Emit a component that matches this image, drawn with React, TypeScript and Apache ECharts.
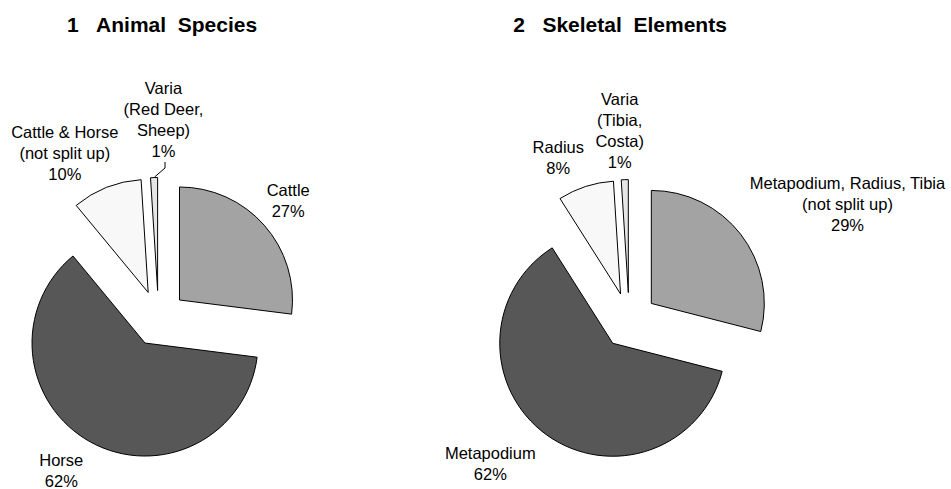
import React, { useEffect, useRef } from "react";
import * as echarts from "echarts";

// ---- data ----
const chartTitles = ["1\u00A0\u00A0\u00A0Animal\u00A0\u00A0Species", "2\u00A0\u00A0\u00A0Skeletal\u00A0\u00A0Elements"];

const speciesNames = ["Cattle", "Horse", "Cattle & Horse\n(not split up)", "Varia\n(Red Deer,\nSheep)"];
const speciesValues = [27, 62, 10, 1];

const elementNames = ["Metapodium, Radius, Tibia\n(not split up)", "Metapodium", "Radius", "Varia\n(Tibia,\nCosta)"];
const elementValues = [29, 62, 8, 1];

// ---- styling / layout ----
const sliceColors = ["#a3a3a3", "#575757", "#f8f8f8", "#e6e6e6"];
const FONT = "'Liberation Sans', Arial, sans-serif";
const pieCenters: [number, number][] = [
  [158.5, 318.5],
  [629.2, 320.6],
];
const pieRadius = 113;
const explode = 28;
const titleX = [162, 620];
// label block centres (per pie, per slice)
const labelCenters: [number, number][][] = [
  [
    [288.2, 200],
    [61.3, 470.7],
    [64.8, 153.2],
    [163.5, 119.3],
  ],
  [
    [847.5, 204],
    [490.3, 463],
    [558.3, 157],
    [619.7, 130.5],
  ],
];
const leaderLines: number[][][] = [
  [[154.6, 177], [165, 168], [165, 162]],
];

function buildSeries(idx: number, names: string[], values: number[]) {
  return {
    type: "pie",
    center: pieCenters[idx],
    radius: pieRadius,
    startAngle: 90,
    clockwise: true,
    selectedMode: "multiple",
    selectedOffset: explode,
    avoidLabelOverlap: false,
    silent: true,
    itemStyle: { borderColor: "#000", borderWidth: 1 },
    select: { itemStyle: { borderColor: "#000", borderWidth: 1 } },
    label: { show: false },
    labelLine: { show: false },
    data: values.map((v, i) => ({
      name: names[i],
      value: v,
      selected: true,
      itemStyle: { color: sliceColors[i] },
      select: { itemStyle: { color: sliceColors[i] } },
    })),
  };
}

function buildLabels(idx: number, names: string[], values: number[]) {
  return names.map((n, i) => ({
    type: "text",
    silent: true,
    style: {
      text: `${n}\n${values[i]}%`,
      x: labelCenters[idx][i][0],
      y: labelCenters[idx][i][1],
      textAlign: "center",
      textVerticalAlign: "middle",
      fontFamily: FONT,
      fontSize: 16.5,
      lineHeight: 21,
      fill: "#000",
    },
  }));
}

export default function App() {
  const ref = useRef<HTMLDivElement>(null);
  useEffect(() => {
    if (!ref.current) return;
    const chart = echarts.init(ref.current, undefined, { renderer: "svg" });
    chart.setOption({
      animation: false,
      backgroundColor: "#ffffff",
      title: chartTitles.map((t, i) => ({
        text: t,
        left: titleX[i],
        top: 14,
        textAlign: "center",
        padding: 0,
        textStyle: { fontFamily: FONT, fontSize: 21, fontWeight: "bold", color: "#000" },
      })),
      graphic: [
        ...buildLabels(0, speciesNames, speciesValues),
        ...buildLabels(1, elementNames, elementValues),
        ...leaderLines.map((pts) => ({
          type: "polyline",
          silent: true,
          shape: { points: pts },
          style: { stroke: "#000", lineWidth: 1, fill: null },
        })),
      ],
      series: [
        buildSeries(0, speciesNames, speciesValues),
        buildSeries(1, elementNames, elementValues),
      ],
    });
    return () => chart.dispose();
  }, []);
  return (
    <div
      ref={ref}
      style={{ position: "fixed", left: 0, top: 0, width: 951, height: 489 }}
    />
  );
}
